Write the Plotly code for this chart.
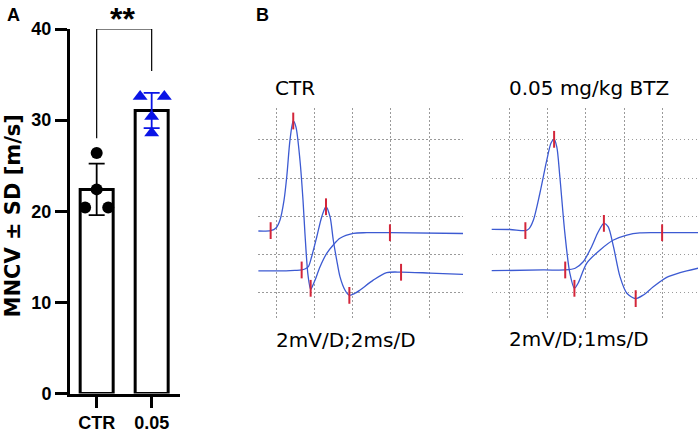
import numpy as np
import plotly.graph_objects as go

W, H = 700, 433

# ---------------- Panel A data ----------------
groups = ["CTR", "0.05"]
ctr_values = [26.4, 22.4, 20.4, 20.4]
btz_values = [32.6, 32.6, 30.4, 28.6]
ctr_jitter = [0.0, 0.0, -0.21, 0.21]
btz_jitter = [-0.21, 0.23, 0.0, 0.0]
y_ticks = [0, 10, 20, 30, 40]
bracket_y = [28.0, 40.0, 40.0, 35.4]

# ---------------- Panel B data (time in ms, amplitude in mV) ----------------
ctr_a_t = [-0.92, -0.28, 0.0, 0.21, 0.42, 0.57, 0.73, 0.90, 1.04, 1.25, 1.41, 1.51, 1.67, 1.81,
           1.93, 2.04, 2.30, 2.65, 2.99, 3.34, 4.04, 4.74, 5.95, 9.77]
ctr_a_v = [3.23, 3.25, 3.39, 3.81, 4.85, 6.16, 7.99, 8.99, 8.68, 6.95, 4.85, 3.13, 0.93, 0.18,
           0.40, 0.66, 1.36, 2.06, 2.50, 2.85, 3.11, 3.14, 3.14, 3.10]
ctr_a_mark_t = [-0.28, 0.90, 1.81, 5.95]
ctr_a_mark_v = [3.25, 8.99, 0.23, 3.14]

ctr_b_t = [-0.92, 0.21, 0.99, 1.34, 1.51, 1.69, 1.86, 2.13, 2.39, 2.61, 2.82, 2.99, 3.17, 3.34,
           3.60, 3.83, 4.13, 4.39, 5.08, 5.78, 6.53, 8.04, 9.77]
ctr_b_v = [1.14, 1.14, 1.17, 1.19, 1.24, 1.36, 1.88, 2.93, 3.98, 4.50, 3.98, 2.76, 1.71, 0.84,
           0.14, -0.14, -0.03, 0.14, 0.66, 1.05, 1.08, 1.03, 0.96]
ctr_b_mark_t = [1.34, 2.61, 3.83, 6.53]
ctr_b_mark_v = [1.19, 4.50, -0.14, 1.07]

btz_a_t = [-0.50, 0.02, 0.42, 0.51, 0.63, 0.80, 0.98, 1.09, 1.17, 1.24, 1.32, 1.45, 1.58, 1.70,
           1.80, 2.02, 2.37, 2.72, 3.07, 3.41, 3.99, 4.93]
btz_a_v = [3.32, 3.31, 3.25, 3.34, 3.81, 5.22, 6.95, 7.84, 8.03, 7.64, 6.07, 3.13, 1.03, 0.23,
           0.51, 1.54, 2.24, 2.76, 3.02, 3.13, 3.14, 3.14]
btz_a_mark_t = [0.42, 1.17, 1.70, 3.99]
btz_a_mark_v = [3.25, 8.03, 0.23, 3.14]

btz_b_t = [-0.50, 0.89, 1.46, 1.72, 1.93, 2.15, 2.32, 2.47, 2.58, 2.72, 2.89, 3.07, 3.30, 3.50,
           3.76, 4.11, 4.46, 4.93]
btz_b_v = [1.15, 1.19, 1.19, 1.28, 1.62, 2.41, 3.18, 3.63, 3.46, 2.41, 0.84, -0.03, -0.31, -0.12,
           0.31, 0.80, 1.05, 1.28]
btz_b_mark_t = [1.46, 2.47, 3.30]
btz_b_mark_v = [1.19, 3.63, -0.31]

ctr_grid_t = [0, 2, 4, 6, 8]
btz_grid_t = [0, 1, 2, 3, 4]
grid_v = [0, 2, 4, 6, 8]

# ---------------- styles ----------------
BLUE_PT = "#0a14e6"
TRACE = "#3c5ad2"
RED = "#d3263a"
GRID = "#9a9a9a"
AR = "Liberation Sans, Arial, sans-serif"


def px(x):
    return x / W


def py(y):
    return 1 - y / H


means = [float(np.mean(ctr_values)), float(np.mean(btz_values))]
sds = [float(np.std(ctr_values, ddof=1)), float(np.std(btz_values, ddof=1))]

fig = go.Figure()

# bars
fig.add_trace(go.Bar(x=[0, 1], y=means, width=0.6,
                     marker=dict(color="white", line=dict(color="black", width=3)),
                     xaxis="x", yaxis="y", showlegend=False))
# error bars
fig.add_trace(go.Scatter(x=[0], y=[means[0]], mode="markers", marker=dict(size=0.1, color="black"),
                         error_y=dict(type="data", array=[sds[0]], color="black", thickness=1.8, width=8),
                         xaxis="x", yaxis="y", showlegend=False, cliponaxis=False))
fig.add_trace(go.Scatter(x=[1], y=[means[1]], mode="markers", marker=dict(size=0.1, color=BLUE_PT),
                         error_y=dict(type="data", array=[sds[1]], color=BLUE_PT, thickness=1.8, width=8),
                         xaxis="x", yaxis="y", showlegend=False, cliponaxis=False))
# points
fig.add_trace(go.Scatter(x=[0 + j for j in ctr_jitter], y=ctr_values, mode="markers",
                         marker=dict(symbol="circle", size=12, color="black"),
                         xaxis="x", yaxis="y", showlegend=False, cliponaxis=False))
fig.add_trace(go.Scatter(x=[1 + j for j in btz_jitter], y=btz_values, mode="markers",
                         marker=dict(symbol="triangle-up", size=13, color=BLUE_PT),
                         xaxis="x", yaxis="y", showlegend=False, cliponaxis=False))
# significance bracket
fig.add_trace(go.Scatter(x=[0, 0, 1, 1], y=bracket_y, mode="lines",
                         line=dict(color="black", width=1.2),
                         xaxis="x", yaxis="y", showlegend=False, cliponaxis=False))

# EMG traces
for (t, v, xa, ya) in [(ctr_a_t, ctr_a_v, "x2", "y2"), (ctr_b_t, ctr_b_v, "x2", "y2"),
                       (btz_a_t, btz_a_v, "x3", "y3"), (btz_b_t, btz_b_v, "x3", "y3")]:
    fig.add_trace(go.Scatter(x=t, y=v, mode="lines", line=dict(color=TRACE, width=1.3, shape="spline", smoothing=0.8),
                             xaxis=xa, yaxis=ya, showlegend=False))
for (t, v, xa, ya) in [(ctr_a_mark_t, ctr_a_mark_v, "x2", "y2"), (ctr_b_mark_t, ctr_b_mark_v, "x2", "y2"),
                       (btz_a_mark_t, btz_a_mark_v, "x3", "y3"), (btz_b_mark_t, btz_b_mark_v, "x3", "y3")]:
    fig.add_trace(go.Scatter(x=t, y=v, mode="markers",
                             marker=dict(symbol="line-ns", size=12, line=dict(width=2, color=RED)),
                             xaxis=xa, yaxis=ya, showlegend=False, cliponaxis=False))

grid_common = dict(showgrid=True, gridcolor=GRID, gridwidth=1, griddash="1.5px,2.5px",
                   zeroline=False, showline=False, showticklabels=False, ticks="", automargin=False)

fig.update_layout(
    width=W, height=H, margin=dict(l=0, r=0, t=0, b=0, autoexpand=False),
    paper_bgcolor="white", plot_bgcolor="rgba(0,0,0,0)",
    xaxis=dict(domain=[px(70), px(180)], range=[-0.485, 1.515], showline=True, linewidth=3,
               linecolor="black", ticks="outside", ticklen=11, tickwidth=2.5, tickcolor="black",
               tickvals=[0, 1], ticktext=groups, showgrid=False, zeroline=False, automargin=False,
               tickfont=dict(family=AR, size=18, color="black", weight="bold"), anchor="y"),
    yaxis=dict(domain=[py(393.5), py(29)], range=[0, 40], showline=True, linewidth=3,
               linecolor="black", ticks="outside", ticklen=12, tickwidth=2.5, tickcolor="black",
               tickvals=y_ticks, showgrid=False, zeroline=False, automargin=False,
               tickfont=dict(family=AR, size=18, color="black", weight="bold"), anchor="x"),
    xaxis2=dict(domain=[px(258), px(463)], range=[-0.94, 9.765], tickvals=ctr_grid_t, anchor="y2", **grid_common),
    yaxis2=dict(domain=[py(319), py(108)], range=[-1.377, 9.67], tickvals=grid_v, anchor="x2", **grid_common),
    xaxis3=dict(domain=[px(491.7), px(698)], range=[-0.4595, 4.927], tickvals=btz_grid_t, anchor="y3", **grid_common),
    yaxis3=dict(domain=[py(319), py(108)], range=[-1.377, 9.67], tickvals=grid_v, anchor="x3", **grid_common),
)

ann = [
    dict(text="<b>A</b>", x=px(13), y=py(15.5), size=18, family=AR),
    dict(text="<b>B</b>", x=px(262), y=py(15.5), size=18, family=AR),
]
for a in ann:
    fig.add_annotation(text=a["text"], x=a["x"], y=a["y"], xref="paper", yref="paper",
                       showarrow=False, xanchor="center", yanchor="middle",
                       font=dict(family=a["family"], size=a["size"], color="black"))

fig.add_annotation(text="<b>**</b>", x=px(122.5), y=1.0, xref="paper", yref="paper",
                   showarrow=False, xanchor="center", yanchor="top", borderpad=0,
                   font=dict(family=AR, size=32, color="black"))

fig.add_annotation(text="<b>MNCV ± SD [m/s]</b>", x=px(12), y=py(216.5), xref="paper", yref="paper",
                   showarrow=False, textangle=-90, xanchor="center", yanchor="middle",
                   font=dict(family="DejaVu Sans", size=21, color="black"))

DJ = "DejaVu Sans"
for (txt, x, y) in [("CTR", 273, 88.5), ("0.05 mg/kg BTZ", 506.5, 88.5),
                    ("2mV/D;2ms/D", 273.5, 340), ("2mV/D;1ms/D", 506.5, 338.5)]:
    fig.add_annotation(text=txt, x=px(x), y=py(y), xref="paper", yref="paper", showarrow=False,
                       xanchor="left", yanchor="middle", font=dict(family=DJ, size=20, color="black"))

fig.write_html("out.html", config={"displayModeBar": False},
               post_script="document.body.style.margin='0';document.body.style.padding='0';"
                           "document.documentElement.style.overflow='hidden';")
